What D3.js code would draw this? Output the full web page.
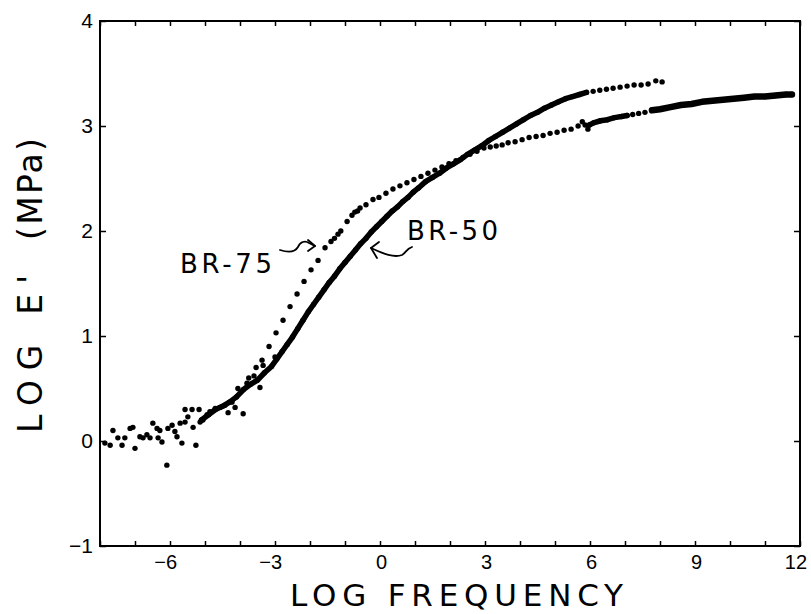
<!DOCTYPE html>
<meta charset="utf-8" />
<style>
  body { margin: 0; background: #fff; }
  svg { display: block; font-family: "DejaVu Sans", sans-serif; }
  .tick line { stroke: #000; stroke-width: 1.5; }
  .note { font-size: 26px; }
  .title { font-size: 33px; }
</style>
<body>
<script src="https://d3js.org/d3.v7.min.js"></script>
<script>
  // tick values
  var xTicks = [-8, -7, -6, -5, -4, -3, -2, -1, 0, 1, 2, 3, 4, 5, 6, 7, 8, 9, 10, 11, 12];
  var xLabels = [-6, -3, 0, 3, 6, 9, 12];
  var yTicks = [-1, 0, 1, 2, 3, 4];

  // BR-75 : log frequency, log E'
  var br75Scatter = [[-7.86,-0.02],[-7.63,0.10],[-7.37,-0.04],[-7.14,0.12],[-7.00,-0.07],[-6.77,0.03],
    [-6.57,0.03],[-6.37,0.12],[-6.23,-0.01],[-6.09,-0.23],[-5.94,0.15],[-5.80,0.04],[-5.71,0.17],
    [-5.57,0.30],[-5.37,0.30],[-5.26,-0.04],[-5.14,0.18],[-4.94,0.25],[-4.71,0.31],[-4.43,0.34],
    [-4.23,0.37],[-4.06,0.50],[-3.91,0.26],[-3.75,0.60]];
  var br75Sparse = [[-3.54,0.70],[-3.37,0.77],[-3.17,0.90],[-2.97,1.03],[-2.77,1.15],[-2.57,1.28],
    [-2.37,1.40],[-2.17,1.52],[-1.97,1.63],[-1.77,1.72],[-1.57,1.84],[-1.40,1.90],[-1.30,1.93],
    [-1.20,1.97],[-1.12,2.00],[-0.94,2.09],[-0.80,2.15],[-0.72,2.18],[-0.64,2.19],[-0.57,2.22],
    [-0.40,2.25],[-0.20,2.30],[-0.03,2.32],[0.17,2.36],[0.37,2.40],[0.57,2.43],[0.77,2.46],
    [0.97,2.49],[1.17,2.52],[1.37,2.55],[1.57,2.58],[1.77,2.61],[1.97,2.64],[2.17,2.67],[2.37,2.70],
    [2.57,2.73],[2.77,2.76],[2.97,2.79],[3.15,2.80],[3.32,2.81],[3.49,2.82],[3.66,2.84],[3.86,2.85],
    [4.06,2.87],[4.26,2.89],[4.46,2.90],[4.66,2.91],[4.86,2.93],[5.06,2.94],[5.26,2.96],[5.46,2.97],
    [5.66,3.00],[5.78,3.04],[5.86,3.01],[5.94,2.97],[7.22,3.11],[7.39,3.12],[7.57,3.13]];
  var br75DenseA = [[5.98,3.01],[6.1,3.03],[6.3,3.05],[6.5,3.06],[6.7,3.08],[6.9,3.09],[7.06,3.10]];
  var br75DenseB = [[7.77,3.15],[8.0,3.16],[8.3,3.18],[8.6,3.20],[8.9,3.21],[9.2,3.23],[9.5,3.24],
    [9.8,3.25],[10.1,3.26],[10.4,3.27],[10.7,3.28],[11.0,3.28],[11.3,3.29],[11.6,3.30],[11.77,3.30]];

  // BR-50
  var br50Scatter = [[-7.71,-0.04],[-7.49,0.03],[-7.29,0.03],[-7.06,0.13],[-6.86,0.04],[-6.66,0.06],
    [-6.49,0.17],[-6.34,0.03],[-6.29,0.10],[-6.06,0.12],[-5.86,0.09],[-5.66,-0.02],[-5.57,0.18],
    [-5.49,0.23],[-5.34,0.13],[-5.17,0.30],[-5.06,0.20],[-4.86,0.28],[-4.57,0.32],[-4.34,0.27],
    [-4.14,0.32],[-3.80,0.55],[-3.43,0.51],[-3.60,0.62],[-3.34,0.72],[-3.0,0.80]];
  var br50Dense = [[-5.1,0.20],[-4.9,0.25],[-4.7,0.30],[-4.5,0.33],[-4.3,0.37],[-4.1,0.42],[-3.9,0.49],
    [-3.7,0.54],[-3.5,0.58],[-3.3,0.65],[-3.1,0.71],[-2.95,0.78],[-2.8,0.85],[-2.65,0.92],[-2.5,0.99],
    [-2.35,1.07],[-2.2,1.15],[-2.05,1.23],[-1.9,1.30],[-1.75,1.37],[-1.6,1.44],[-1.45,1.51],
    [-1.3,1.57],[-1.15,1.64],[-1.0,1.70],[-0.85,1.76],[-0.7,1.82],[-0.55,1.88],[-0.4,1.93],
    [-0.25,1.99],[-0.1,2.04],[0.05,2.09],[0.2,2.14],[0.35,2.19],[0.5,2.23],[0.65,2.28],[0.8,2.32],
    [0.95,2.37],[1.1,2.41],[1.3,2.47],[1.5,2.51],[1.7,2.55],[1.9,2.60],[2.1,2.64],[2.3,2.68],
    [2.5,2.73],[2.7,2.77],[2.9,2.81],[3.1,2.86],[3.3,2.90],[3.5,2.94],[3.7,2.98],[3.9,3.02],
    [4.1,3.06],[4.3,3.10],[4.5,3.13],[4.7,3.17],[4.9,3.20],[5.1,3.23],[5.3,3.26],[5.5,3.28],
    [5.7,3.30],[5.9,3.32]];
  var br50Sparse = [[6.09,3.33],[6.28,3.34],[6.47,3.35],[6.66,3.36],[6.86,3.37],[7.06,3.38],
    [7.26,3.39],[7.46,3.39],[7.66,3.40],[7.88,3.43],[8.06,3.42]];

  var width = 811, height = 614;

  var svg = d3.select("body").append("svg")
    .attr("width", width)
    .attr("height", height)
    .style("background", "#fff");

  var x = d3.scaleLinear().domain([-8, 12]).range([100, 800]);
  var y = d3.scaleLinear().domain([-1, 4]).range([546, 21]);

  function minus(d) { return String(d).replace("-", "\u2212"); }

  // axes, ticks point inward
  var bottom = svg.append("g")
    .attr("transform", "translate(0," + y(-1) + ")")
    .call(d3.axisBottom(x).tickValues(xTicks).tickSizeInner(-5).tickSizeOuter(0).tickPadding(9)
      .tickFormat(function(d) { return xLabels.indexOf(d) >= 0 ? minus(d) : ""; }))
    .call(function(g) { g.select(".domain").remove(); });
  bottom.selectAll("text")
    .attr("text-anchor", "end").attr("dx", "0.33em")
    .style("font-size", "20px").style("fill", "#000");

  svg.append("g")
    .attr("transform", "translate(0," + y(4) + ")")
    .call(d3.axisTop(x).tickValues(xTicks).tickSizeInner(-5).tickSizeOuter(0).tickFormat(""))
    .call(function(g) { g.select(".domain").remove(); });

  var left = svg.append("g")
    .attr("transform", "translate(" + x(-8) + ",0)")
    .call(d3.axisLeft(y).tickValues(yTicks).tickSizeInner(-6).tickSizeOuter(0).tickPadding(7)
      .tickFormat(minus))
    .call(function(g) { g.select(".domain").remove(); });
  left.selectAll("text").style("font-size", "21px").style("fill", "#000");

  svg.append("g")
    .attr("transform", "translate(" + x(12) + ",0)")
    .call(d3.axisRight(y).tickValues(yTicks).tickSizeInner(-6).tickSizeOuter(0).tickFormat(""))
    .call(function(g) { g.select(".domain").remove(); });

  svg.append("rect")
    .attr("x", x(-8)).attr("y", y(4))
    .attr("width", x(12) - x(-8)).attr("height", y(-1) - y(4))
    .attr("fill", "none").attr("stroke", "#000").attr("stroke-width", 2);

  // dense stretches of data: drawn as thick traces
  var line = d3.line().x(function(d) { return x(d[0]); }).y(function(d) { return y(d[1]); });
  [br50Dense, br75DenseA, br75DenseB].forEach(function(arr, i) {
    svg.append("path")
      .datum(arr)
      .attr("d", line)
      .attr("fill", "none")
      .attr("stroke", "#000")
      .attr("stroke-width", i == 2 ? 6.5 : 5.5)
      .attr("stroke-linecap", "round")
      .attr("stroke-linejoin", "round");
  });

  var allPoints = [].concat(br75Scatter, br75Sparse, br75DenseA, br75DenseB,
    br50Scatter, br50Dense, br50Sparse);
  svg.selectAll(".pt")
    .data(allPoints)
    .enter()
    .append("circle")
    .attr("class", "pt")
    .attr("cx", function(d) { return x(d[0]); })
    .attr("cy", function(d) { return y(d[1]); })
    .attr("r", 2.7)
    .attr("fill", "#000");

  // labels with hand drawn arrows
  svg.append("text").attr("class", "note")
    .attr("x", 180).attr("y", 273)
    .attr("textLength", 92).attr("lengthAdjust", "spacing")
    .text("BR-75");
  svg.append("text").attr("class", "note")
    .attr("x", 407).attr("y", 240)
    .attr("textLength", 91).attr("lengthAdjust", "spacing")
    .text("BR-50");

  var arrows = svg.append("g")
    .attr("fill", "none").attr("stroke", "#000").attr("stroke-width", 1.8)
    .attr("stroke-linecap", "round").attr("stroke-linejoin", "round");
  arrows.append("path").attr("d", "M280,250 C289,253 295,252 298,247 C300,242 305,240 309,243 L315,246");
  arrows.append("path").attr("d", "M308,240 L315,246 L308,251");
  arrows.append("path").attr("d", "M371,248 C384,254 394,258 402,255 C406,253 406,249 412,247");
  arrows.append("path").attr("d", "M379,242 L371,248 L377,258");

  // axis titles
  svg.append("text").attr("class", "title")
    .attr("x", 290).attr("y", 606)
    .style("font-size", "31px")
    .attr("textLength", 333).attr("lengthAdjust", "spacing")
    .text("LOG FREQUENCY");

  var yt = svg.append("g").attr("transform", "translate(42,433) rotate(-90)");
  yt.append("text").attr("class", "title")
    .attr("x", 0).attr("y", 0)
    .attr("textLength", 158).attr("lengthAdjust", "spacing")
    .text("LOG E'");
  yt.append("text").attr("class", "title")
    .attr("x", 193).attr("y", 0)
    .attr("textLength", 102).attr("lengthAdjust", "spacing")
    .text("(MPa)");
</script>
</body>
